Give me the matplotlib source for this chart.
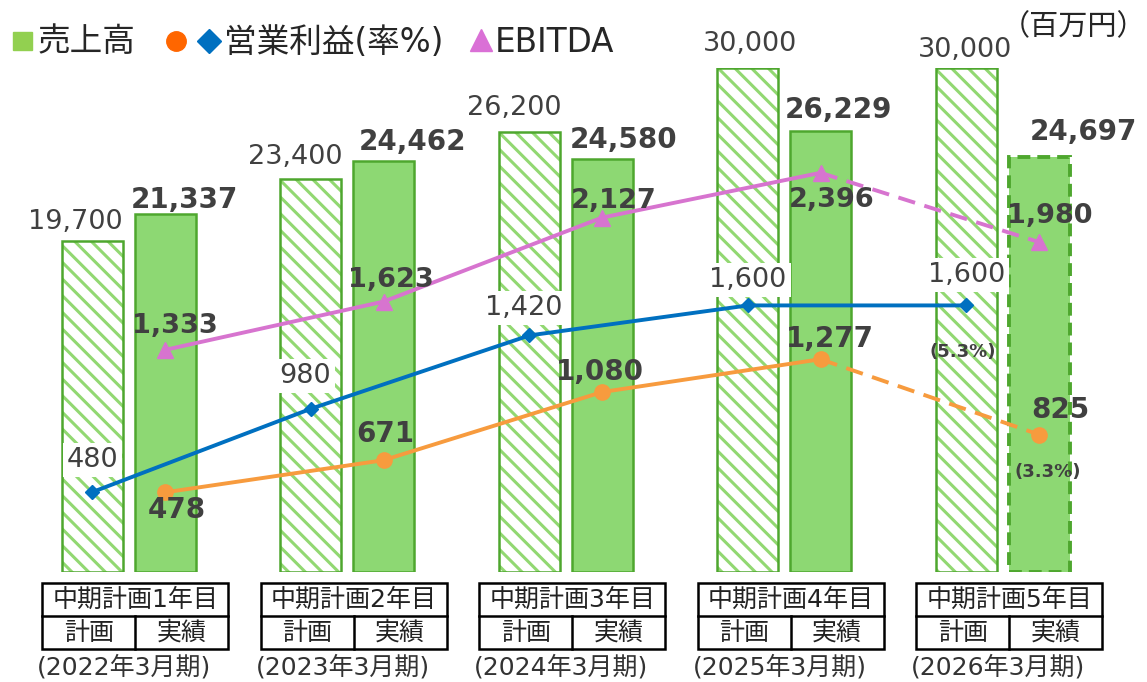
import numpy as np
import matplotlib.pyplot as plt
from matplotlib.patches import Rectangle
from matplotlib.lines import Line2D

# fonts: latin in DejaVu, japanese falls back to Noto CJK
plt.rcParams['font.family'] = ['DejaVu Sans', 'Noto Sans CJK JP']
plt.rcParams['hatch.linewidth'] = 2.2

# data
plan_years = ['中期計画1年目', '中期計画2年目', '中期計画3年目', '中期計画4年目', '中期計画5年目']
periods = ['(2022年3月期)', '(2023年3月期)', '(2024年3月期)', '(2025年3月期)', '(2026年3月期)']
sales_plan = [19700, 23400, 26200, 30000, 30000]
sales_actual = [21337, 24462, 24580, 26229, 24697]
op_plan = [480, 980, 1420, 1600, 1600]
op_actual = [478, 671, 1080, 1277, 825]
ebitda_actual = [1333, 1623, 2127, 2396, 1980]

W, H = 1147, 682
fig = plt.figure(figsize=(W / 100, H / 100), dpi=100)
ax = fig.add_axes([19.5 / W, 110 / H, 1092.5 / W, 504 / H])
ax.set_xlim(-0.5, 4.5)
ax.set_ylim(0, 30000)
ax.axis('off')

ax2 = ax.twinx()
ax2.set_ylim(0, 3025)
ax2.axis('off')

x = np.arange(len(sales_plan))
w = 0.279
off = 0.166
num_color = '#404040'
edge_green = '#4EA72E'

# plan bars (hatched) and actual bars (solid, last one dashed)
ax.bar(x - off, sales_plan, w, color='white', edgecolor='#92D872', hatch='\\\\', linewidth=0)
ax.bar(x - off, sales_plan, w, fill=False, edgecolor=edge_green, linewidth=1.8)
ax.bar(x[:4] + off, sales_actual[:4], w, color='#8DD873', edgecolor=edge_green, linewidth=1.8)
ax.bar(x[4:] + off, sales_actual[4:], w, color='#8DD873', edgecolor=edge_green,
       linewidth=2.8, linestyle=(0, (3.3, 1.8)))

# bar labels
plan_dx = [-17, -16, -15, 2, -1]
plan_dy = [12, 15, 17, 17, 11]
for i, v in enumerate(sales_plan):
    ax.annotate(f'{v:,}', (x[i] - off, v), xytext=(plan_dx[i], plan_dy[i]),
                textcoords='offset pixels', ha='center', va='baseline',
                fontsize=19.5, color=num_color)
act_dx = [19, 29, 22, 17.5, 44]
act_dy = [5.5, 11, 11, 13, 17]
for i, v in enumerate(sales_actual):
    ax.annotate(f'{v:,}', (x[i] + off, v), xytext=(act_dx[i], act_dy[i]),
                textcoords='offset pixels', ha='center', va='baseline',
                fontsize=20, color=num_color, fontweight='bold')

# lines
blue = '#0070C0'
orange = '#F79B3E'
pink = '#D774CF'
dash = (0, (4.5, 2.5))
ax2.plot(x - off, op_plan, color=blue, lw=2.8, marker='D', ms=7.5, zorder=2)
ax2.plot(x[:4] + off, op_actual[:4], color=orange, lw=2.8, marker='o', ms=11, zorder=2)
ax2.plot(x[3:] + off, op_actual[3:], color=orange, lw=2.8, ls=dash, zorder=2)
ax2.plot(x[4:] + off, op_actual[4:], color=orange, marker='o', ms=11, ls='none', zorder=2)
ax2.plot(x[:4] + off, ebitda_actual[:4], color=pink, lw=2.8, marker='^', ms=11, zorder=2)
ax2.plot(x[3:] + off, ebitda_actual[3:], color=pink, lw=2.8, ls=dash, zorder=2)
ax2.plot(x[4:] + off, ebitda_actual[4:], color=pink, marker='^', ms=11, ls='none', zorder=2)

# line labels
ebitda_dx = [10, 7.5, 12, 11.5, 10.5]
ebitda_dy = [17, 15, 10, -34, 19]
for i, v in enumerate(ebitda_actual):
    ax2.annotate(f'{v:,}', (x[i] + off, v), xytext=(ebitda_dx[i], ebitda_dy[i]),
                 textcoords='offset pixels', ha='center', va='baseline',
                 fontsize=19.5, color=num_color, fontweight='bold', zorder=4)
opa_dx = [12, 1.5, -2, 9.5, 21.5]
opa_dy = [-26, 18, 12, 12, 17]
for i, v in enumerate(op_actual):
    ax2.annotate(f'{v:,}', (x[i] + off, v), xytext=(opa_dx[i], opa_dy[i]),
                 textcoords='offset pixels', ha='center', va='baseline',
                 fontsize=20, color=num_color, fontweight='bold', zorder=4)
opp_dx = [0, -5.5, -5.5, 0, 0]
opp_dy = [25, 26, 20, 18, 23]
for i, v in enumerate(op_plan):
    ax2.annotate(f'{v:,}', (x[i] - off, v), xytext=(opp_dx[i], opp_dy[i]),
                 textcoords='offset pixels', ha='center', va='baseline',
                 fontsize=19.5, color=num_color, zorder=4,
                 bbox=dict(facecolor='white', edgecolor='none', pad=3))

# margin labels for the last year
ax2.annotate(f'({op_plan[4] / sales_plan[4] * 100:.1f}%)', (x[4] - off, op_plan[4]),
             xytext=(-3.5, -52), textcoords='offset pixels', ha='center', va='baseline',
             fontsize=13, color=num_color, fontweight='bold')
ax2.annotate(f'({op_actual[4] / sales_actual[4] * 100:.1f}%)', (x[4] + off, op_actual[4]),
             xytext=(8.5, -42.5), textcoords='offset pixels', ha='center', va='baseline',
             fontsize=13, color=num_color, fontweight='bold')

# category tables under the bars
trans = ax.get_xaxis_transform()


def fy(ypx):
    return (572 - ypx) / 504


for i in range(len(plan_years)):
    cx = x[i] + 0.03
    ax.add_patch(Rectangle((cx - 0.425, fy(649)), 0.85, fy(583) - fy(649), fill=False,
                           edgecolor='black', lw=1.8, transform=trans, clip_on=False))
    ax.plot([cx - 0.425, cx + 0.425], [fy(616), fy(616)], color='black', lw=1.8,
            transform=trans, clip_on=False)
    ax.plot([cx, cx], [fy(616), fy(649)], color='black', lw=1.8,
            transform=trans, clip_on=False)
    ax.text(cx, fy(599.5), plan_years[i], transform=trans, ha='center', va='center',
            fontsize=18, color='#222222')
    ax.text(cx - 0.2125, fy(632.5), '計画', transform=trans, ha='center', va='center',
            fontsize=18, color='#222222')
    ax.text(cx + 0.2125, fy(632.5), '実績', transform=trans, ha='center', va='center',
            fontsize=18, color='#222222')
    ax.text(x[i] - 0.02, fy(667), periods[i], transform=trans, ha='center', va='center',
            fontsize=18, color='#333333')

# legend drawn by hand
def fx(px):
    return px / W


def fyy(py):
    return 1 - py / H


fig.patches.append(Rectangle((fx(13), fyy(50)), 19 / W, 18 / H, transform=fig.transFigure,
                             color='#92D050'))
fig.text(fx(38), fyy(42), '売上高', fontsize=23.5, va='center', color='#262626')
fig.add_artist(Line2D([fx(176)], [fyy(41)], marker='o', ms=14, color='#FF6600',
                      transform=fig.transFigure))
fig.add_artist(Line2D([fx(209)], [fyy(41)], marker='D', ms=12, color=blue,
                      transform=fig.transFigure))
fig.text(fx(224), fyy(42), '営業利益(率%)', fontsize=23.5, va='center', color='#262626')
fig.add_artist(Line2D([fx(481)], [fyy(40)], marker='^', ms=16, color='#DA70D6',
                      transform=fig.transFigure))
fig.text(fx(495), fyy(42), 'EBITDA', fontsize=23.5, va='center', color='#262626')
fig.text(fx(1146), fyy(27), '（百万円）', fontsize=21, ha='right', va='center', color='#262626')

fig.savefig('out.png', dpi=100)
